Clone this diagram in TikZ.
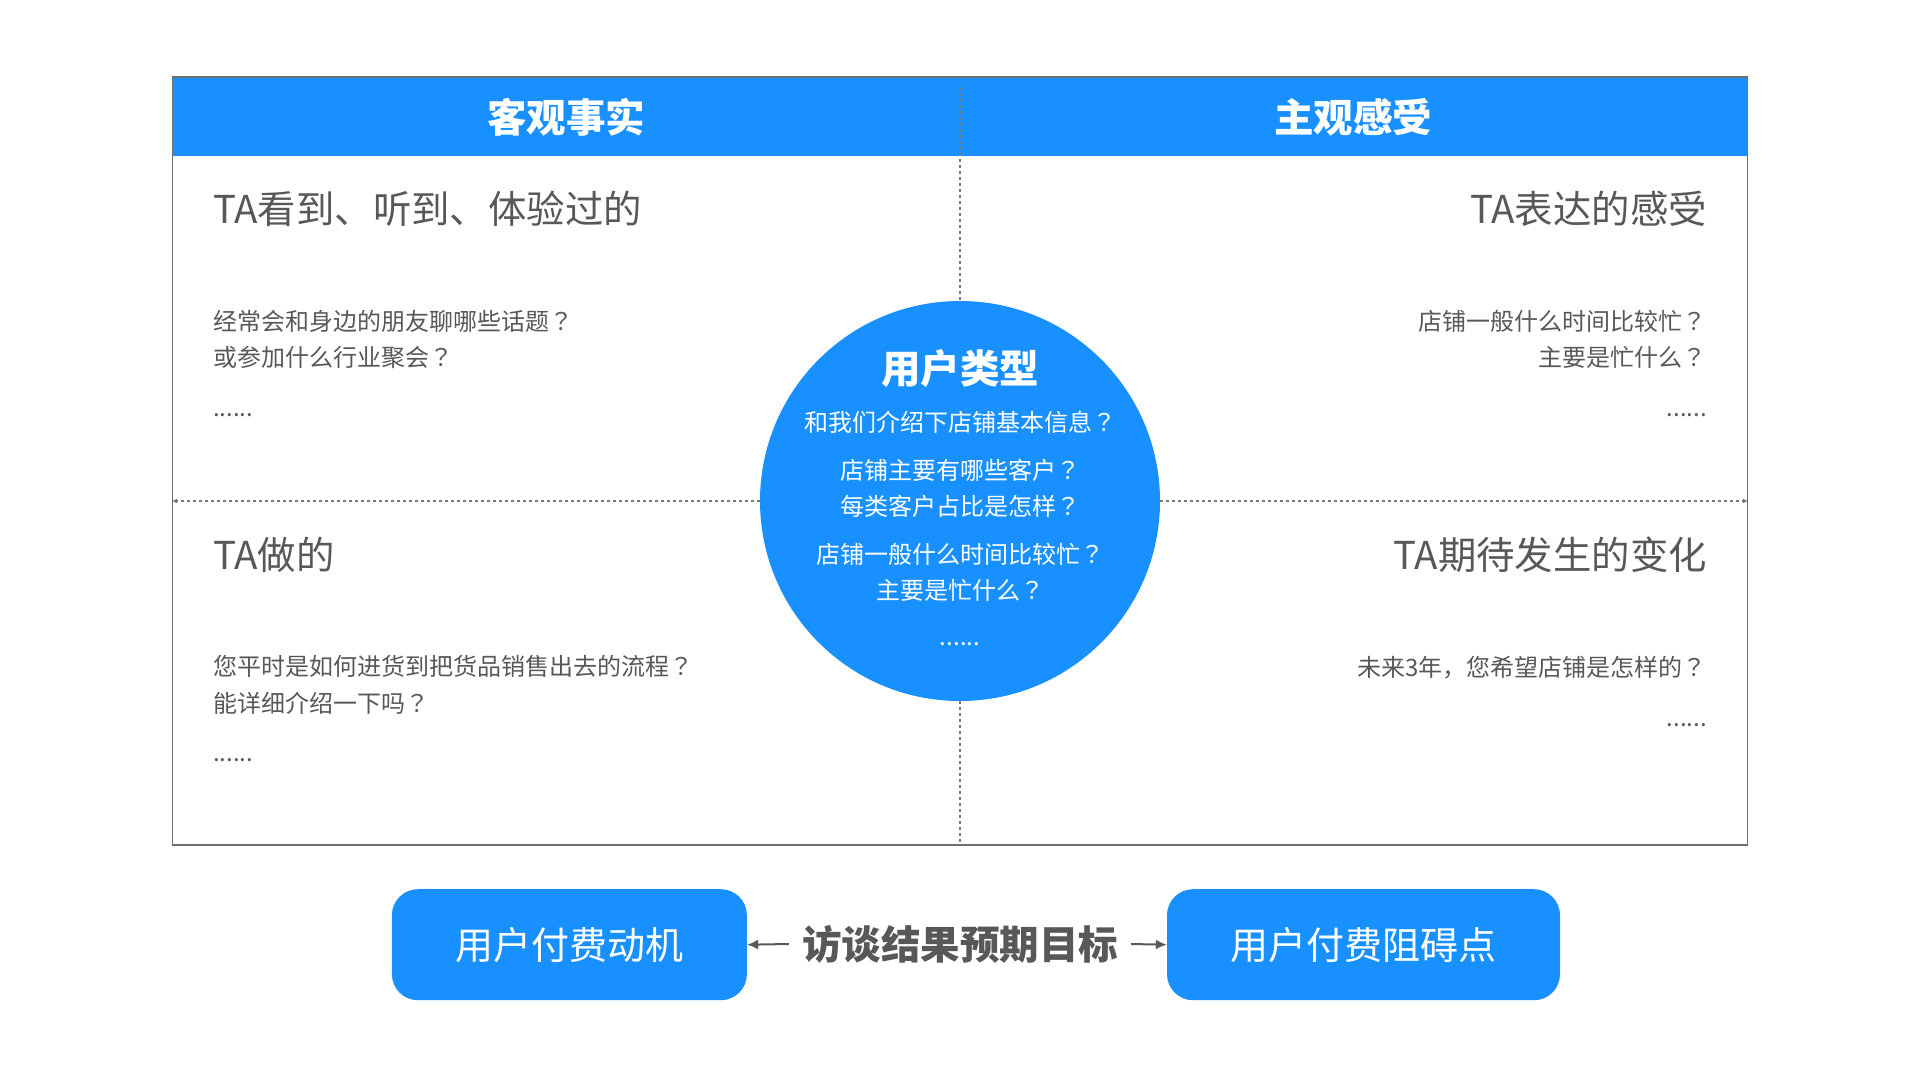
\documentclass[tikz,border=0pt]{standalone}
\usepackage{fontspec}
\setmainfont{Noto Sans CJK SC}
\newfontfamily\tcq{Noto Sans CJK TC}
\newcommand{\qmk}{{\tcq ？}}
\usetikzlibrary{arrows.meta}
\definecolor{brandblue}{RGB}{24,144,255}
\definecolor{txtgray}{RGB}{88,88,88}
\definecolor{linegray}{RGB}{120,120,120}
\definecolor{framegray}{RGB}{110,110,110}
\begin{document}
\begin{tikzpicture}[x=1pt,y=-1pt,
  title/.style={font=\fontsize{38.4}{44}\selectfont, text=txtgray, inner sep=0pt},
  ques/.style={font=\fontsize{24}{36.5}\selectfont, text=txtgray, inner sep=0pt},
  dots/.style={font=\fontsize{24}{30}\selectfont, text=txtgray, inner sep=0pt},
  head/.style={font=\bfseries\fontsize{39.5}{46}\selectfont, text=white, inner sep=0pt},
  cq/.style={font=\fontsize{24}{35.7}\selectfont, text=white, inner sep=0pt, align=center},
  dashline/.style={draw=linegray, line width=1.4pt, dash pattern=on 3pt off 3pt},
  tip/.style={-{Latex[length=5pt,width=5pt]}},
  goalbox/.style={fill=brandblue, rounded corners=26pt, font=\fontsize{38}{44}\selectfont, text=white, inner sep=0pt},
  goalarrow/.style={draw=txtgray, line width=2pt, -{Latex[length=11pt,width=10pt]}},
]
\useasboundingbox (0,0) rectangle (1920,1080);
\fill[white] (0,0) rectangle (1920,1080);
% header bar and frame
\node[fill=brandblue, minimum width=1574.8pt, minimum height=78.5pt, inner sep=0pt, anchor=north] (hdr) at (960,77) {};
\node[draw=framegray, line width=1.2pt, minimum width=1574.8pt, minimum height=768pt, inner sep=0pt] (frame) at (960,461) {};
\node[head] (h1) at (566,117.5) {客观事实};
\node[head] (h2) at (1353,117.5) {主观感受};
% centre circle
\node[circle, fill=brandblue, minimum size=400pt, inner sep=0pt] (ctr) at (960,501) {};
% dashed axes
\coordinate (vtop) at (960,87);
\draw[dashline] (vtop) -- (ctr.north);
\draw[dashline] (ctr.south) -- (frame.south);
\draw[dashline, tip] (ctr.west) -- (frame.west |- ctr.west);
\draw[dashline, tip] (ctr.east) -- (frame.east |- ctr.east);
% quadrant texts
\node[title, anchor=west] (t1) at (213,209) {TA看到、听到、体验过的};
\node[ques, anchor=west, align=left] (q1) at (213,339.2) {经常会和身边的朋友聊哪些话题\qmk\\或参加什么行业聚会\qmk};
\node[dots, anchor=base west] (d1) at (213,416) {......};
\node[title, anchor=east] (t2) at (1707,209) {TA表达的感受};
\node[ques, anchor=east, align=right] (q2) at (1707,339.2) {店铺一般什么时间比较忙\qmk\\主要是忙什么\qmk};
\node[dots, anchor=base east] (d2) at (1707,416) {......};
\node[title, anchor=west] (t3) at (213,554.7) {TA做的};
\node[ques, anchor=west, align=left] (q3) at (213,685) {您平时是如何进货到把货品销售出去的流程\qmk\\能详细介绍一下吗\qmk};
\node[dots, anchor=base west] (d3) at (213,761) {......};
\node[title, anchor=east] (t4) at (1707,554.7) {TA期待发生的变化};
\node[ques, anchor=east] (q4) at (1707,667.4) {未来3年，您希望店铺是怎样的\qmk};
\node[dots, anchor=base east] (d4) at (1707,726) {......};
% circle texts
\node[head] (c0) at (960,368.5) {用户类型};
\node[cq] (c1) at (960,422.5) {和我们介绍下店铺基本信息\qmk};
\node[cq] (c2) at (960,488) {店铺主要有哪些客户\qmk\\每类客户占比是怎样\qmk};
\node[cq] (c3) at (960,572.5) {店铺一般什么时间比较忙\qmk\\主要是忙什么\qmk};
\node[dots, text=white, anchor=base] (c4) at (960,645) {......};
% bottom row
\node[goalbox, minimum width=355pt, minimum height=111pt] (lbox) at (569.4,944.7) {用户付费动机};
\node[goalbox, minimum width=393pt, minimum height=111pt] (rbox) at (1363.5,944.7) {用户付费阻碍点};
\node[font=\bfseries\fontsize{39.5}{46}\selectfont, text=txtgray, inner sep=0pt] (goal) at (960,944) {访谈结果预期目标};
\draw[goalarrow] ([xshift=-13pt]goal.west) -- (lbox.east);
\draw[goalarrow] ([xshift=13pt]goal.east) -- (rbox.west);
\end{tikzpicture}
\end{document}
